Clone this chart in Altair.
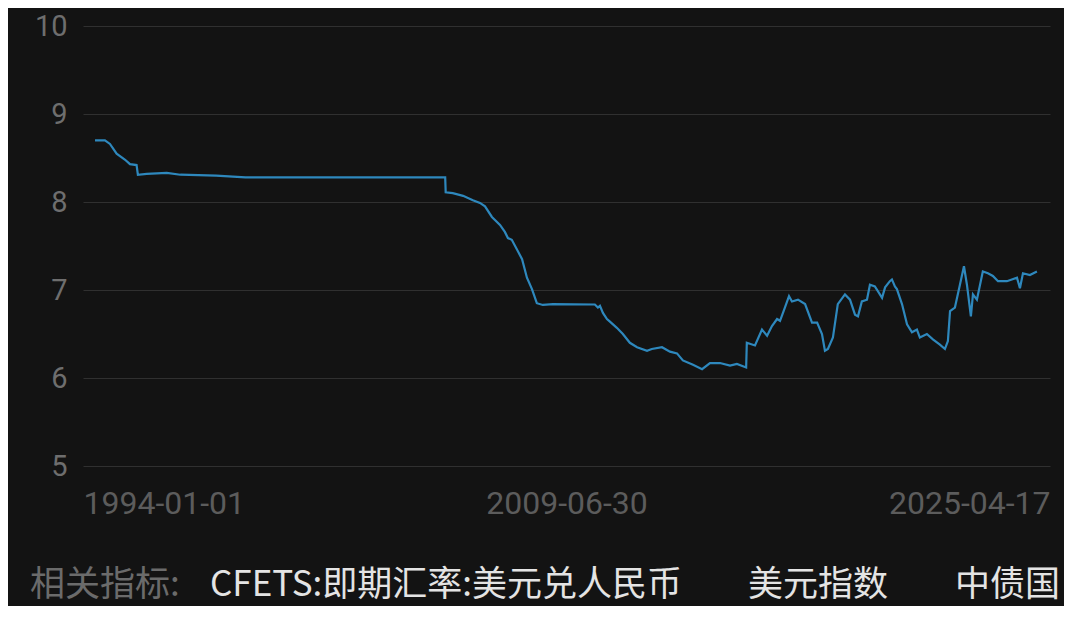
import altair as alt
import pandas as pd

# USD/CNY (CFETS spot)
dates = [
    "1994-01-01", "1994-05-01", "1994-07-01", "1994-09-20", "1995-01-01", "1995-03-01",
    "1995-05-20", "1995-06-05", "1995-09-20", "1996-05-20", "1996-11-01", "1998-01-10",
    "1999-01-01", "2005-08-20", "2005-08-26", "2005-11-20", "2006-03-25", "2006-07-22",
    "2006-10-16", "2006-12-16", "2007-03-10", "2007-06-16", "2007-08-14", "2007-09-20",
    "2007-11-06", "2008-01-08", "2008-03-10", "2008-05-08", "2008-07-08", "2008-09-05",
    "2008-11-17", "2009-03-20", "2010-08-10", "2010-09-16", "2010-10-11", "2010-11-16",
    "2011-01-04", "2011-02-09", "2011-05-04", "2011-07-16", "2011-10-09", "2012-01-04",
    "2012-05-04", "2012-07-01", "2012-11-02", "2013-02-06", "2013-05-03", "2013-07-13",
    "2013-11-13", "2014-03-03", "2014-06-07", "2014-10-06", "2015-02-05", "2015-04-30",
    "2015-08-20", "2015-08-28", "2015-12-05", "2016-02-28", "2016-04-30", "2016-06-28",
    "2016-08-29", "2016-10-04", "2016-12-02", "2017-01-21", "2017-02-26", "2017-05-10",
    "2017-08-04", "2017-10-27", "2017-12-28", "2018-02-25", "2018-04-02", "2018-05-08",
    "2018-07-08", "2018-09-05", "2018-12-01", "2019-01-31", "2019-04-02", "2019-05-08",
    "2019-06-24", "2019-08-25", "2019-09-30", "2019-11-29", "2020-02-24", "2020-04-01",
    "2020-05-29", "2020-06-23", "2020-07-29", "2020-08-22", "2020-10-23", "2020-12-23",
    "2021-02-21", "2021-04-22", "2021-05-28", "2021-08-21", "2021-11-02", "2022-01-26",
    "2022-03-28", "2022-05-03", "2022-05-29", "2022-07-27", "2022-09-26", "2022-11-14",
    "2022-12-20", "2023-02-06", "2023-03-03", "2023-04-20", "2023-07-01", "2023-09-01",
    "2023-10-31", "2024-01-01", "2024-04-18", "2024-08-18", "2024-09-23", "2024-10-30",
    "2025-01-22", "2025-04-17",
]
values = [
    8.70, 8.70, 8.66, 8.55, 8.48, 8.43,
    8.42, 8.31, 8.32, 8.33, 8.31, 8.30,
    8.28, 8.28, 8.11, 8.10, 8.07, 8.02,
    7.99, 7.95, 7.83, 7.74, 7.66, 7.59,
    7.57, 7.46, 7.35, 7.14, 7.01, 6.85,
    6.83, 6.84, 6.835, 6.80, 6.82, 6.74,
    6.67, 6.64, 6.57, 6.50, 6.40, 6.35,
    6.31, 6.33, 6.35, 6.30, 6.28, 6.20,
    6.15, 6.10, 6.17, 6.17, 6.14, 6.16,
    6.12, 6.40, 6.37, 6.55, 6.48, 6.59,
    6.67, 6.65, 6.80, 6.93, 6.87, 6.89,
    6.84, 6.63, 6.63, 6.50, 6.31, 6.33,
    6.46, 6.84, 6.95, 6.89, 6.72, 6.70,
    6.87, 6.89, 7.06, 7.04, 6.91, 7.03,
    7.10, 7.12, 7.04, 7.01, 6.84, 6.61,
    6.52, 6.55, 6.46, 6.50, 6.44, 6.38,
    6.33, 6.42, 6.76, 6.80, 7.06, 7.27,
    7.06, 6.70, 6.95, 6.89, 7.21, 7.19,
    7.16, 7.10, 7.10, 7.14, 7.02, 7.19,
    7.17, 7.21,
]

y_ticks = [5, 6, 7, 8, 9, 10]
x_tick_labels = ["1994-01-01", "2009-06-30", "2025-04-17"]
footer_prefix = "相关指标:"
footer_items = ["CFETS:即期汇率:美元兑人民币", "美元指数", "中债国"]

df = pd.DataFrame({"date": dates, "value": values})

CJK = "Noto Sans CJK SC"
NUM = "Roboto"
BG = "#131313"

label_expr = (
    f"year(datum.value) < 2000 ? '{x_tick_labels[0]}' : "
    f"year(datum.value) < 2020 ? '{x_tick_labels[1]}' : '{x_tick_labels[2]}'"
)

x_domain = [alt.DateTime(year=1993, month=8, date=8), alt.DateTime(year=2025, month=9, date=23)]
x_vals = [
    alt.DateTime(year=1993, month=8, date=8),
    alt.DateTime(year=2009, month=8, date=31),
    alt.DateTime(year=2025, month=9, date=23),
]

line = alt.Chart(df).mark_line(color="#2e88bd", strokeWidth=2.2).encode(
    x=alt.X(
        "date:T",
        scale=alt.Scale(domain=x_domain),
        axis=alt.Axis(
            values=x_vals,
            labelExpr=label_expr,
            labelFlush=True,
            labelFont=NUM,
            labelFontSize=32,
            labelColor="#5c5c5c",
            labelPadding=37,
            ticks=False,
            domain=False,
            grid=False,
            title=None,
            labelBaseline="middle",
        ),
    ),
    y=alt.Y(
        "value:Q",
        scale=alt.Scale(domain=[5, 10], nice=False, zero=False),
        axis=alt.Axis(
            values=y_ticks,
            labelFont=NUM,
            labelFontSize=29,
            labelColor="#6e6e6e",
            labelPadding=16,
            labelBaseline="alphabetic",
            labelOffset=9,
            ticks=False,
            domain=False,
            grid=True,
            gridColor="#303030",
            gridWidth=1,
            title=None,
        ),
    ),
)

def footer(text, xpos, color):
    return alt.Chart(alt.Data(values=[{}])).mark_text(
        align="left", baseline="middle", font=CJK, fontSize=35, color=color
    ).encode(x=alt.value(xpos), y=alt.value(559), text=alt.value(text))

layers = [line, footer(footer_prefix, -53, "#6b6b6b")]
for txt, xp in zip(footer_items, [127, 665, 872]):
    layers.append(footer(txt, xp, "#e4e4e4"))

chart = alt.layer(*layers).properties(
    width=967,
    height=440,
    background=BG,
    autosize=alt.AutoSizeParams(type="none"),
    padding={"left": 75, "top": 18, "right": 14, "bottom": 140},
).configure_view(stroke=None)

chart.save("out.html", embed_options={"renderer": "svg", "actions": False})
